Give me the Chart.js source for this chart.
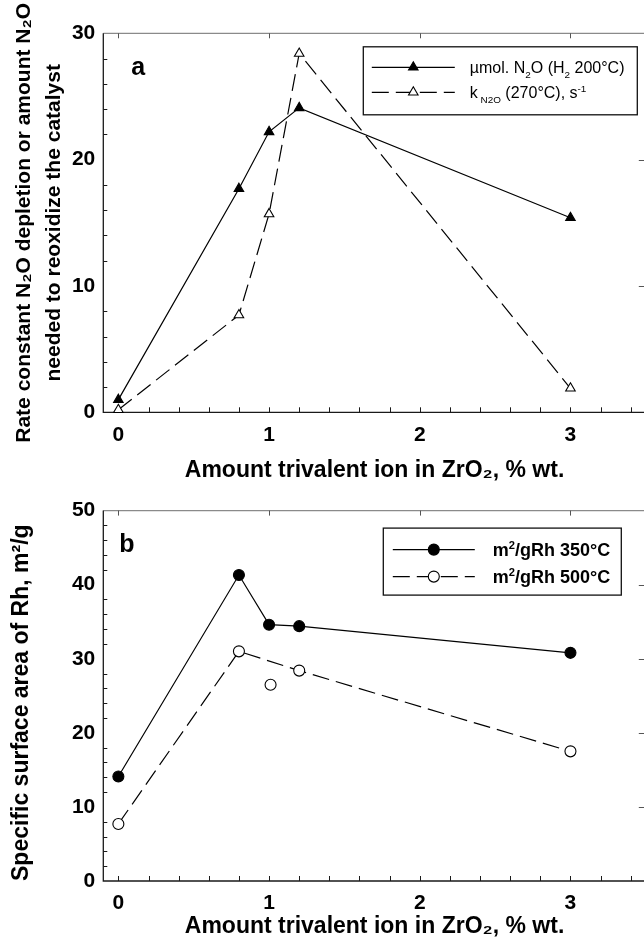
<!DOCTYPE html>
<html>
<head>
<meta charset="utf-8">
<script src="https://cdn.jsdelivr.net/npm/chart.js@4.4.1/dist/chart.umd.min.js"></script>
<style>
  html, body { margin: 0; padding: 0; background: #fff; overflow: hidden; width: 644px; height: 941px; }
  #wrap { position: relative; width: 644px; height: 941px; overflow: hidden; }
  canvas { position: absolute; left: 0; }
  #chartA { top: 0; }
  #chartB { top: 490px; }
</style>
</head>
<body>
<div id="wrap">
  <canvas id="chartA" width="660" height="490"></canvas>
  <canvas id="chartB" width="660" height="451"></canvas>
</div>
<script>
// ---- Panel a: N2O reoxidation vs. trivalent ion loading ----
const loadingA = [0, 0.8, 1.0, 1.2, 3.0];
const umolN2O = [1.0, 17.7, 22.2, 24.1, 15.4];
const kN2O = [0.2, 7.7, 15.7, 28.4, 1.9];
const labelsA = ['\u00b5mol. N_{2}O (H_{2} 200\u00b0C)', 'k_{ N2O} (270\u00b0C), s^{-1}'];

// ---- Panel b: Rh specific surface area vs. trivalent ion loading ----
const loading350 = [0, 0.8, 1.0, 1.2, 3.0];
const area350 = [14.1, 41.3, 34.6, 34.4, 30.8];
const loading500 = [0, 0.8, 1.2, 3.0];
const area500 = [7.7, 31.0, 28.4, 17.5];
const loading500Single = [1.01];
const area500Single = [26.5];
const labelsB = ['m^{2}/gRh 350\u00b0C', 'm^{2}/gRh 500\u00b0C'];

// ---- Tick labels ----
const xTickValues = [0, 1, 2, 3];
const yTicksA = [0, 10, 20, 30];
const yTicksB = [0, 10, 20, 30, 40, 50];

const FAMILY = "'Liberation Sans', Arial, Helvetica, sans-serif";

function pts(xs, ys) { return xs.map((x, i) => ({ x: x, y: ys[i] })); }

// Text with _{sub} and ^{sup} runs
function parseRich(str) {
  const parts = []; const re = /([_^])\{([^}]*)\}/g; let last = 0, m;
  while ((m = re.exec(str))) {
    if (m.index > last) parts.push({ t: str.slice(last, m.index), k: 0 });
    parts.push({ t: m[2], k: m[1] === '_' ? 1 : -1 });
    last = re.lastIndex;
  }
  if (last < str.length) parts.push({ t: str.slice(last), k: 0 });
  return parts;
}
function drawRich(ctx, str, x, y, size, weight) {
  ctx.textBaseline = 'alphabetic'; ctx.textAlign = 'left';
  for (const p of parseRich(str)) {
    const s = p.k ? size * 0.62 : size;
    ctx.font = weight + ' ' + s + 'px ' + FAMILY;
    const dy = p.k === 1 ? size * 0.28 : (p.k === -1 ? -size * 0.4 : 0);
    ctx.fillText(p.t, x, y + dy);
    x += ctx.measureText(p.t).width;
  }
}

function drawMarker(ctx, ds, x, y) {
  const o = { pointStyle: ds.pointStyle, radius: ds.pointRadius, rotation: 0, borderWidth: ds.pointBorderWidth };
  ctx.save();
  ctx.fillStyle = ds.pointBackgroundColor; ctx.strokeStyle = ds.pointBorderColor; ctx.lineWidth = ds.pointBorderWidth;
  ctx.setLineDash([]);
  Chart.helpers.drawPoint(ctx, o, x, y);
  ctx.restore();
}

// Frame with inward tick marks, panel letter and boxed legend
const framePlugin = {
  id: 'frame',
  beforeDatasetsDraw(chart, args, opts) {
    const ctx = chart.ctx, a = chart.chartArea, xs = chart.scales.x, ys = chart.scales.y;
    ctx.save();
    // top and right edges
    ctx.strokeStyle = '#8a8a8a'; ctx.lineWidth = 1.2;
    ctx.beginPath(); ctx.moveTo(a.left, a.top); ctx.lineTo(a.right, a.top); ctx.lineTo(a.right, a.bottom); ctx.stroke();
    // left and bottom axes
    ctx.strokeStyle = '#1a1a1a'; ctx.lineWidth = 1.3;
    ctx.beginPath(); ctx.moveTo(a.left, a.top); ctx.lineTo(a.left, a.bottom); ctx.lineTo(a.right, a.bottom); ctx.stroke();
    ctx.lineWidth = 1;
    // bottom ticks every minor step
    ctx.strokeStyle = '#1a1a1a';
    ctx.beginPath();
    for (let i = 0; i * opts.xMinor <= xs.max - 0.05; i++) {
      const px = Math.round(xs.getPixelForValue(i * opts.xMinor)) + 0.5;
      ctx.moveTo(px, a.bottom); ctx.lineTo(px, a.bottom - 5);
    }
    // left minor ticks
    for (let v = opts.yMinor; v < ys.max; v += opts.yMinor) {
      if (Math.abs(v / opts.yMajor - Math.round(v / opts.yMajor)) < 1e-6) continue;
      const py = Math.round(ys.getPixelForValue(v)) + 0.5;
      ctx.moveTo(a.left, py); ctx.lineTo(a.left + 4, py);
    }
    ctx.stroke();
    // top ticks at labelled x values, right ticks at labelled y values
    ctx.strokeStyle = '#555';
    ctx.beginPath();
    xs.ticks.forEach(t => {
      const px = Math.round(xs.getPixelForValue(t.value)) + 0.5;
      ctx.moveTo(px, a.top); ctx.lineTo(px, a.top + 5);
    });
    ys.ticks.forEach(t => {
      if (t.value <= ys.min || t.value >= ys.max) return;
      const py = Math.round(ys.getPixelForValue(t.value)) + 0.5;
      ctx.moveTo(a.right, py); ctx.lineTo(a.right - 7, py);
    });
    ctx.stroke();
    // panel letter
    ctx.fillStyle = '#000';
    ctx.font = 'bold 25px ' + FAMILY;
    ctx.textBaseline = 'alphabetic'; ctx.textAlign = 'left';
    ctx.fillText(opts.letter, a.left + opts.letterDx, a.top + opts.letterDy);
    ctx.restore();
  },
  afterDatasetsDraw(chart, args, opts) {
    const ctx = chart.ctx, a = chart.chartArea, L = opts.legend;
    const bx = a.right - L.dxRight, by = a.top + L.dy;
    ctx.save();
    ctx.fillStyle = '#fff';
    ctx.fillRect(bx, by, L.w, L.h);
    ctx.strokeStyle = '#111'; ctx.lineWidth = 1.3;
    ctx.strokeRect(bx + 0.5, by + 0.5, L.w, L.h);
    L.rows.forEach((row) => {
      const ds = chart.data.datasets[row.index];
      const cy = by + row.dy;
      ctx.strokeStyle = ds.borderColor; ctx.lineWidth = ds.borderWidth;
      ctx.setLineDash(ds.borderDash || []);
      ctx.beginPath(); ctx.moveTo(bx + L.lineX0, cy); ctx.lineTo(bx + L.lineX1, cy); ctx.stroke();
      ctx.setLineDash([]);
      drawMarker(ctx, ds, bx + (L.lineX0 + L.lineX1) / 2, cy);
      ctx.fillStyle = '#000';
      drawRich(ctx, ds.label, bx + L.textX, cy + L.size * 0.36, L.size, L.weight);
    });
    ctx.restore();
  }
};

function axisX(title, height, titlePad) {
  return {
    type: 'linear', min: -0.1, max: 3.5,
    grid: { display: false, drawTicks: false }, border: { display: false },
    afterBuildTicks: s => { s.ticks = xTickValues.map(v => ({ value: v })); },
    afterFit: s => { s.height = height; },
    ticks: { font: { family: FAMILY, size: 21, weight: 'bold' }, color: '#000', padding: 10, maxRotation: 0, autoSkip: false },
    title: { display: true, text: title, color: '#000', font: { family: FAMILY, size: 23, weight: 'bold' }, padding: { top: 0, bottom: titlePad } }
  };
}
function axisY(max, tickVals, title, titleFont, titlePad, align) {
  return {
    type: 'linear', min: 0, max: max,
    grid: { display: false, drawTicks: false }, border: { display: false },
    afterBuildTicks: s => { s.ticks = tickVals.map(v => ({ value: v })); },
    afterFit: s => { s.width = 103.3; },
    ticks: { font: { family: FAMILY, size: 21, weight: 'bold' }, color: '#000', padding: 8 },
    title: { display: true, text: title, color: '#000', align: align, font: Object.assign({ family: FAMILY, weight: 'bold' }, titleFont), padding: { top: titlePad, bottom: 0 } }
  };
}

function series(label, data, filled, style, dashed, radius) {
  return {
    label: label, data: data, showLine: true, clip: false,
    borderColor: '#000', borderWidth: 1.2, borderDash: dashed ? [17, 7] : [],
    pointStyle: style, pointRadius: radius, pointBorderWidth: 1.1,
    pointBackgroundColor: filled ? '#000' : '#fff', pointBorderColor: '#000'
  };
}

const baseOpts = {
  responsive: false, animation: false, devicePixelRatio: 1,
  plugins: { legend: { display: false }, tooltip: { enabled: false } }
};

new Chart(document.getElementById('chartA'), {
  type: 'scatter',
  data: {
    datasets: [
      series(labelsA[0], pts(loadingA, umolN2O), true, 'triangle', false, 5.5),
      series(labelsA[1], pts(loadingA, kN2O), false, 'triangle', true, 5.5)
    ]
  },
  options: Object.assign({}, baseOpts, {
    layout: { padding: { top: 33.3, right: 14.2, left: 0, bottom: 0 } },
    plugins: Object.assign({}, baseOpts.plugins, {
      frame: {
        xMinor: 0.2, yMinor: 2, yMajor: 10, letter: 'a', letterDx: 28, letterDy: 42,
        legend: { dxRight: 283, dy: 13, w: 274, h: 68, lineX0: 9, lineX1: 92, textX: 107, size: 16, weight: 'normal',
          rows: [{ index: 0, dy: 21 }, { index: 1, dy: 46 }] }
      }
    }),
    scales: {
      x: axisX('Amount trivalent ion in ZrO\u2082, % wt.', 77.7, 5.2),
      y: axisY(30, yTicksA, ['Rate constant N\u2082O depletion or amount N\u2082O', 'needed to reoxidize the catalyst'],
        { size: 21, lineHeight: 30.5 / 21 }, 8.75, 'center')
    }
  }),
  plugins: [framePlugin]
});

new Chart(document.getElementById('chartB'), {
  type: 'scatter',
  data: {
    datasets: [
      series(labelsB[0], pts(loading350, area350), true, 'circle', false, 5.5),
      series(labelsB[1], pts(loading500, area500), false, 'circle', true, 5.5),
      Object.assign(series(labelsB[1], pts(loading500Single, area500Single), false, 'circle', true, 5.5), { showLine: false })
    ]
  },
  options: Object.assign({}, baseOpts, {
    layout: { padding: { top: 11, right: 14.2, left: 0, bottom: 0 } },
    plugins: Object.assign({}, baseOpts.plugins, {
      frame: {
        xMinor: 0.2, yMinor: 2, yMajor: 10, letter: 'b', letterDx: 16, letterDy: 41,
        legend: { dxRight: 263, dy: 17, w: 238, h: 67, lineX0: 10, lineX1: 92, textX: 110, size: 18, weight: 'bold',
          rows: [{ index: 0, dy: 22 }, { index: 1, dy: 49 }] }
      }
    }),
    scales: {
      x: axisX('Amount trivalent ion in ZrO\u2082, % wt.', 60, 0.7),
      y: axisY(50, yTicksB, 'Specific surface area of Rh, m\u00b2/g', { size: 23, lineHeight: 1.2 }, 7.7, 'start')
    }
  }),
  plugins: [framePlugin]
});
</script>
</body>
</html>
